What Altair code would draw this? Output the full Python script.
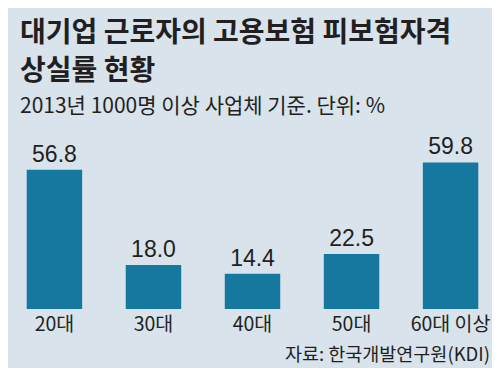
import altair as alt
import pandas as pd

categories = ["20대", "30대", "40대", "50대", "60대 이상"]
values = [56.8, 18.0, 14.4, 22.5, 59.8]

title_line1 = "대기업 근로자의 고용보험 피보험자격"
title_line2 = "상실률 현황"
subtitle = "2013년 1000명 이상 사업체 기준. 단위: %"
source = "자료: 한국개발연구원(KDI)"

BG = "#d9e3ec"
BAR = "#16789e"
INK = "#231f20"
KFONT = "Noto Sans CJK KR"

df = pd.DataFrame({"age": categories, "rate": values})

x_enc = alt.X(
    "age:N",
    sort=categories,
    scale=alt.Scale(paddingInner=0.44, paddingOuter=0.098),
    axis=alt.Axis(
        title=None,
        ticks=False,
        domain=False,
        labelAngle=0,
        labelFont=KFONT,
        labelFontSize=19.5,
        labelColor=INK,
        labelPadding=6,
    ),
)
y_enc = alt.Y(
    "rate:Q",
    scale=alt.Scale(domain=[0, 60], nice=False),
    axis=None,
)

base = alt.Chart(df)
bars = base.mark_bar(color=BAR).encode(x=x_enc, y=y_enc)
labels = base.mark_text(
    font="Liberation Sans",
    fontSize=23,
    color=INK,
    baseline="alphabetic",
    dy=-8,
).encode(x=x_enc, y=y_enc, text=alt.Text("rate:Q", format=".1f"))


def note(text, x, y, size, weight="normal", align="left"):
    return alt.Chart(pd.DataFrame({"t": [text]})).mark_text(
        font=KFONT,
        fontSize=size,
        fontWeight=weight,
        color=INK,
        align=align,
        baseline="alphabetic",
    ).encode(x=alt.value(x), y=alt.value(y), text="t:N")


t1 = note(title_line1, 3, -120, 28, "bold")
t2 = note(title_line2, 3, -82, 28, "bold")
t3 = note(subtitle, 3, -49, 21)
t4 = note(source, 473, 199, 18.5, align="right")

chart = (
    alt.layer(bars, labels, t1, t2, t3, t4)
    .properties(
        width=471,
        height=147,
        autosize=alt.AutoSizeParams(type="none"),
        padding={"left": 9, "top": 154, "right": 4, "bottom": 59},
        background=BG,
    )
    .configure_view(stroke=None)
)

chart.save("out.html", embed_options={"renderer": "svg", "actions": False})
